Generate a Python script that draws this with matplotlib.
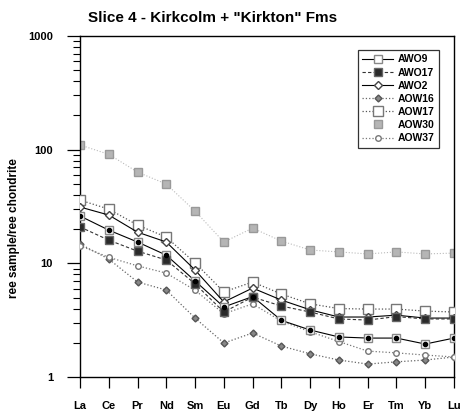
import matplotlib
matplotlib.use("Agg")
import matplotlib.pyplot as plt
from matplotlib.ticker import LogLocator, NullFormatter, FixedLocator, FixedFormatter

plt.rcParams['font.family'] = ['Liberation Sans', 'DejaVu Sans']
plt.rcParams['font.weight'] = 'bold'

# REE 元素
elements = ['La', 'Ce', 'Pr', 'Nd', 'Sm', 'Eu', 'Gd', 'Tb', 'Dy', 'Ho', 'Er', 'Tm', 'Yb', 'Lu']

# 各样品的球粒陨石标准化值
awo9 = [26.1, 19.6, 15.4, 11.8, 7.0, 4.13, 5.1, 3.15, 2.59, 2.25, 2.2, 2.2, 1.95, 2.2]
awo17 = [20.9, 16.0, 12.8, 10.7, 6.6, 3.73, 5.05, 4.21, 3.73, 3.24, 3.17, 3.4, 3.24, 3.24]
awo2 = [31.3, 26.6, 18.8, 15.4, 8.73, 4.57, 6.06, 4.75, 3.9, 3.37, 3.37, 3.5, 3.3, 3.3]
aow16 = [14.8, 10.9, 6.85, 5.82, 3.3, 1.99, 2.44, 1.87, 1.6, 1.41, 1.3, 1.36, 1.41, 1.5]
aow17 = [36.0, 30.0, 21.7, 17.0, 10.1, 5.6, 6.85, 5.37, 4.4, 4.0, 3.96, 3.96, 3.8, 3.73]
aow30 = [110, 91, 63.5, 49.8, 28.8, 15.4, 20.4, 15.7, 13.1, 12.6, 12.1, 12.6, 12.1, 12.3]
aow37 = [14.3, 11.3, 9.5, 8.2, 5.8, 3.6, 4.4, 3.1, 2.5, 2.05, 1.69, 1.63, 1.56, 1.5]

fig = plt.figure(figsize=(4.61, 4.16), dpi=100)
ax = fig.add_axes([80 / 461, 1 - 377 / 416, (454 - 80) / 461, (377 - 36) / 416])

x = list(range(len(elements)))

# 样式：线型、标记
ax.plot(x, aow30, linestyle=':', color='#bbbbbb', linewidth=0.8, zorder=1)
h30, = ax.plot(x, aow30, linestyle='none', marker='s', markersize=6,
               markerfacecolor='#b5b5b5', markeredgecolor='#999999', label='AOW30', zorder=2)
h17b, = ax.plot(x, aow17, linestyle=':', color='#555555', linewidth=0.9, marker='s', markersize=7,
                markerfacecolor='white', markeredgecolor='#777777', label='AOW17', zorder=3)
h2, = ax.plot(x, awo2, linestyle='-', color='black', linewidth=0.8, marker='D', markersize=4,
              markerfacecolor='white', markeredgecolor='#444444', label='AWO2', zorder=4)
h9, = ax.plot(x, awo9, linestyle='-', color='black', linewidth=0.8, marker='s', markersize=6,
              markerfacecolor='white', markeredgecolor='#888888', label='AWO9', zorder=5)
ax.plot(x, awo9, linestyle='none', marker='o', markersize=3, color='black', zorder=6)
h17, = ax.plot(x, awo17, linestyle='--', color='#333333', linewidth=0.8, dashes=(3, 2), marker='s',
               markersize=6, markerfacecolor='#2a2a2a', markeredgecolor='#666666', label='AWO17', zorder=5)
h16, = ax.plot(x, aow16, linestyle=':', color='#666666', linewidth=0.9, marker='D', markersize=3.5,
               markerfacecolor='#888888', markeredgecolor='#555555', label='AOW16', zorder=4)
h37, = ax.plot(x, aow37, linestyle=':', color='#777777', linewidth=0.9, marker='o', markersize=4,
               markerfacecolor='white', markeredgecolor='#777777', label='AOW37', zorder=4)

ax.set_yscale('log')
ax.set_ylim(1, 1000)
ax.set_xlim(0, len(elements) - 1)

ax.yaxis.set_major_locator(FixedLocator([1, 10, 100, 1000]))
ax.yaxis.set_major_formatter(FixedFormatter(['1', '10', '100', '1000']))
ax.yaxis.set_minor_locator(LogLocator(base=10, subs=range(2, 10)))
ax.yaxis.set_minor_formatter(NullFormatter())
ax.tick_params(axis='y', which='major', direction='out', length=9.5, width=0.9, pad=10, labelsize=8)
ax.tick_params(axis='y', which='minor', direction='out', length=5, width=0.8)

ax.set_xticks(x)
ax.set_xticklabels(elements)
ax.tick_params(axis='x', direction='out', length=8, width=0.9, pad=9, labelsize=8)

for s in ax.spines.values():
    s.set_linewidth(1.0)

ax.set_ylabel('ree sample/ree chondrite', fontsize=8.5, fontweight='bold')
ax.yaxis.set_label_coords(-60 / 374, 0.437)

fig.text(88 / 461, 1 - 18 / 416, 'Slice 4 - Kirkcolm + "Kirkton" Fms',
         fontsize=11, fontweight='bold', ha='left', va='center')

leg = ax.legend(handles=[h9, h17, h2, h16, h17b, h30, h37], loc='upper right',
                bbox_to_anchor=(0.975, 0.975), fontsize=7.5, frameon=True, fancybox=False,
                edgecolor='black', handlelength=2.9, labelspacing=0.3, borderpad=0.45,
                handletextpad=0.5)
leg.get_frame().set_linewidth(0.9)

fig.savefig('out.png', dpi=100)
